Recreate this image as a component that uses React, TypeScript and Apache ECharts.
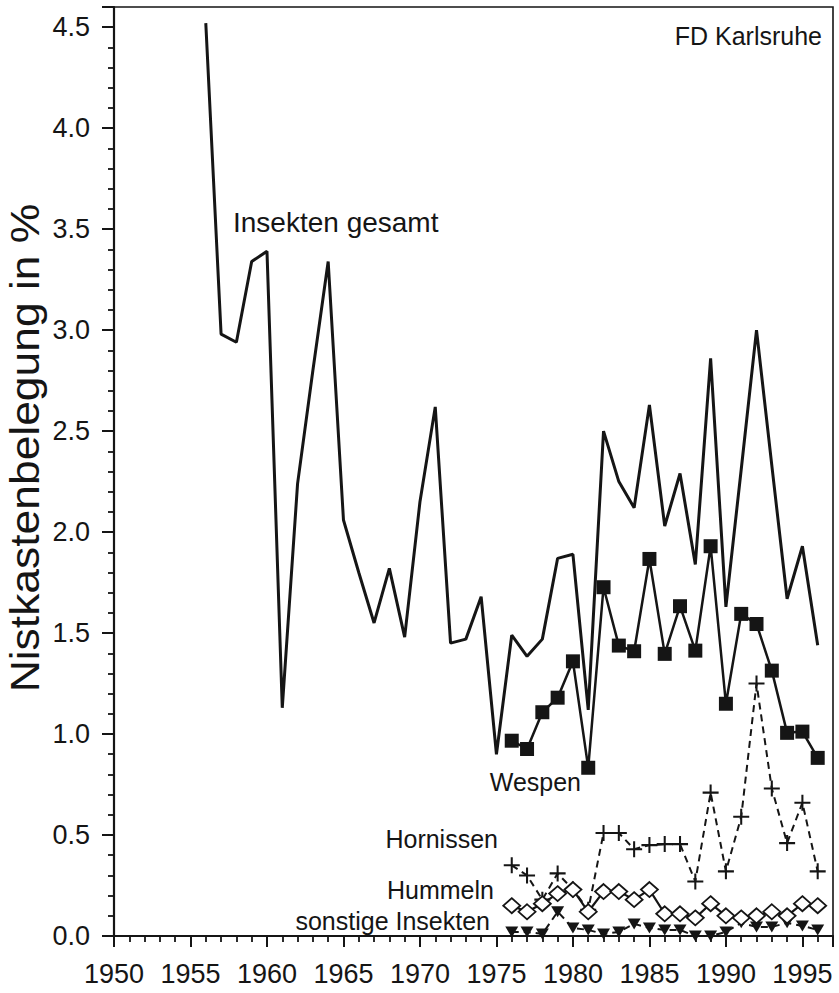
import React, { useEffect, useRef } from 'react';
import * as echarts from 'echarts';

// Insekten gesamt (1956-1996)
const yearsAll = [
  1956, 1957, 1958, 1959, 1960, 1961, 1962, 1963, 1964, 1965, 1966, 1967, 1968, 1969,
  1970, 1971, 1972, 1973, 1974, 1975, 1976, 1977, 1978, 1979, 1980, 1981, 1982, 1983,
  1984, 1985, 1986, 1987, 1988, 1989, 1990, 1991, 1992, 1993, 1994, 1995, 1996,
];
const insektenGesamt = [
  4.52, 2.98, 2.94, 3.34, 3.39, 1.13, 2.24, 2.8, 3.34, 2.06, 1.8, 1.55, 1.82, 1.48,
  2.15, 2.62, 1.45, 1.47, 1.68, 0.9, 1.49, 1.385, 1.47, 1.87, 1.89, 1.12, 2.5, 2.25,
  2.12, 2.63, 2.03, 2.29, 1.84, 2.86, 1.63, 2.31, 3.0, 2.33, 1.67, 1.93, 1.44,
];

// Detailed groups (1976-1996)
const yearsDetail = [
  1976, 1977, 1978, 1979, 1980, 1981, 1982, 1983, 1984, 1985, 1986, 1987, 1988, 1989,
  1990, 1991, 1992, 1993, 1994, 1995, 1996,
];
const wespen = [
  0.967, 0.926, 1.108, 1.18, 1.36, 0.833, 1.727, 1.438, 1.41, 1.867, 1.397, 1.633, 1.413,
  1.93, 1.15, 1.595, 1.545, 1.314, 1.006, 1.012, 0.882,
];
const hornissen = [
  0.35, 0.3, 0.18, 0.31, 0.23, 0.13, 0.51, 0.51, 0.43, 0.45, 0.455, 0.455, 0.27, 0.71,
  0.32, 0.59, 1.25, 0.73, 0.46, 0.66, 0.32,
];
const hummeln = [
  0.15, 0.12, 0.16, 0.21, 0.23, 0.12, 0.22, 0.22, 0.18, 0.23, 0.11, 0.11, 0.09, 0.16,
  0.1, 0.09, 0.1, 0.12, 0.1, 0.16, 0.15,
];
const sonstige = [
  0.02, 0.02, 0.01, 0.12, 0.04, 0.03, 0.01, 0.02, 0.06, 0.04, 0.03, 0.03, 0.0, 0.0,
  0.02, 0.065, 0.045, 0.045, 0.065, 0.05, 0.03,
];

const yAxisTitle = 'Nistkastenbelegung in %';
const panelLabel = 'FD Karlsruhe';
const seriesNames = ['Insekten gesamt', 'Wespen', 'Hornissen', 'Hummeln', 'sonstige Insekten'];

const FONT = "'Liberation Sans', Arial, Helvetica, sans-serif";
const INK = '#151515';

const pairs = (xs: number[], ys: number[]) => xs.map((x, i) => [x, ys[i]]);

export default function App() {
  const ref = useRef<HTMLDivElement>(null);
  useEffect(() => {
    if (!ref.current) return;
    const chart = echarts.init(ref.current, undefined, { renderer: 'svg' });
    const plusPath = 'path://M6.1,0H7.9V6.1H14V7.9H7.9V14H6.1V7.9H0V6.1H6.1Z';
    chart.setOption({
      animation: false,
      backgroundColor: '#ffffff',
      grid: {
        left: 114,
        right: 6,
        top: 7,
        bottom: 57,
        show: true,
        borderColor: INK,
        borderWidth: 1.6,
        backgroundColor: 'transparent',
      },
      xAxis: {
        type: 'value',
        min: 1950,
        max: 1997,
        interval: 5,
        axisLine: { show: true, lineStyle: { color: INK, width: 2.2 } },
        axisTick: { show: true, length: 11, lineStyle: { color: INK, width: 2 } },
        minorTick: { show: true, splitNumber: 5, length: 6, lineStyle: { color: INK, width: 1.8 } },
        splitLine: { show: false },
        minorSplitLine: { show: false },
        axisLabel: {
          showMaxLabel: false,
          margin: 24,
          fontSize: 27,
          fontFamily: FONT,
          color: INK,
          formatter: (v: number) => String(v),
        },
      },
      yAxis: {
        type: 'value',
        min: 0,
        max: 4.6,
        interval: 0.5,
        axisLine: { show: true, lineStyle: { color: INK, width: 2.2 } },
        axisTick: { show: true, length: 12, lineStyle: { color: INK, width: 2 } },
        minorTick: { show: true, splitNumber: 5, length: 6, lineStyle: { color: INK, width: 1.8 } },
        splitLine: { show: false },
        minorSplitLine: { show: false },
        axisLabel: {
          showMaxLabel: false,
          margin: 24,
          fontSize: 27,
          fontFamily: FONT,
          color: INK,
          formatter: (v: number) => v.toFixed(1),
        },
      },
      series: [
        {
          name: seriesNames[0],
          type: 'line',
          data: pairs(yearsAll, insektenGesamt),
          symbol: 'none',
          lineStyle: { color: INK, width: 3 },
          z: 2,
        },
        {
          name: seriesNames[1],
          type: 'line',
          data: pairs(yearsDetail, wespen),
          symbol: 'rect',
          symbolSize: 14,
          itemStyle: { color: INK },
          lineStyle: { color: INK, width: 2.5 },
          z: 3,
        },
        {
          name: seriesNames[2],
          type: 'line',
          data: pairs(yearsDetail, hornissen),
          symbol: plusPath,
          symbolSize: 16,
          symbolKeepAspect: true,
          itemStyle: { color: INK },
          lineStyle: { color: INK, width: 2, type: [7, 5] },
          z: 4,
        },
        {
          name: seriesNames[4],
          type: 'line',
          data: pairs(yearsDetail, sonstige),
          symbol: 'triangle',
          symbolRotate: 180,
          symbolSize: [13, 11],
          itemStyle: { color: INK },
          lineStyle: { color: INK, width: 2, type: [7, 5] },
          z: 4,
        },
        {
          name: seriesNames[3],
          type: 'line',
          data: pairs(yearsDetail, hummeln),
          symbol: 'diamond',
          symbolSize: [17, 15],
          itemStyle: { color: '#ffffff', borderColor: INK, borderWidth: 1.8 },
          lineStyle: { color: INK, width: 2.2 },
          z: 5,
        },
      ],
      graphic: [
        {
          type: 'text',
          x: 25,
          y: 448,
          rotation: Math.PI / 2,
          scaleX: 1.11,
          style: {
            text: yAxisTitle,
            fontSize: 40,
            fontFamily: FONT,
            fill: INK,
            align: 'center',
            verticalAlign: 'middle',
          },
        },
        {
          type: 'text',
          x: 822,
          y: 36,
          style: { text: panelLabel, fontSize: 25, fontFamily: FONT, fill: INK, align: 'right', verticalAlign: 'middle' },
        },
        {
          type: 'text',
          x: 233,
          y: 222,
          style: { text: seriesNames[0], fontSize: 28, fontFamily: FONT, fill: INK, align: 'left', verticalAlign: 'middle' },
        },
        {
          type: 'text',
          x: 581,
          y: 782,
          style: { text: seriesNames[1], fontSize: 25, fontFamily: FONT, fill: INK, align: 'right', verticalAlign: 'middle' },
        },
        {
          type: 'text',
          x: 498,
          y: 839,
          style: { text: seriesNames[2], fontSize: 25, fontFamily: FONT, fill: INK, align: 'right', verticalAlign: 'middle' },
        },
        {
          type: 'text',
          x: 494,
          y: 890,
          style: { text: seriesNames[3], fontSize: 25, fontFamily: FONT, fill: INK, align: 'right', verticalAlign: 'middle' },
        },
        {
          type: 'text',
          x: 490,
          y: 921,
          style: { text: seriesNames[4], fontSize: 25, fontFamily: FONT, fill: INK, align: 'right', verticalAlign: 'middle' },
        },
      ],
    });
    return () => chart.dispose();
  }, []);
  return <div ref={ref} style={{ position: 'fixed', left: 0, top: 0, width: 839, height: 993 }} />;
}
